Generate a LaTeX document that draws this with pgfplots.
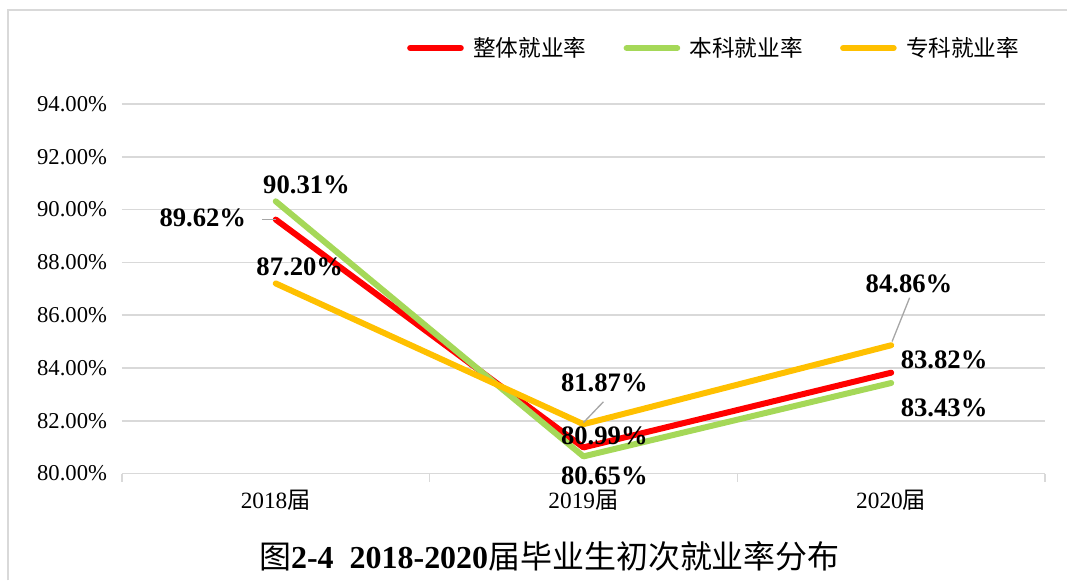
\documentclass[border=0pt]{standalone}
\usepackage{pgfplots}
\pgfplotsset{compat=1.18}
\usepackage{fontspec}
\setmainfont{Liberation Serif}
\newfontfamily\cjk{Noto Sans CJK SC}
\definecolor{cred}{HTML}{FF0000}
\definecolor{cgreen}{HTML}{A5D858}
\definecolor{corange}{HTML}{FFC000}
\definecolor{gridgray}{HTML}{D9D9D9}
\definecolor{leadgray}{HTML}{A6A6A6}
\begin{document}
\begin{tikzpicture}
% canvas: 1 px = 0.75pt
\path (0,0) rectangle (801pt,435.75pt);
\draw[gridgray, line width=1.5pt] (6pt,0pt) -- (6pt,428.25pt) -- (801pt,428.25pt);
\begin{axis}[
    at={(91.5pt,80.25pt)}, anchor=south west,
    scale only axis,
    width=693pt, height=277.5pt,
    xmin=-0.5, xmax=2.5,
    ymin=80, ymax=94,
    clip=false,
    axis line style={draw=none},
    xtick={0,1,2},
    xticklabels={2018{\cjk 届},2019{\cjk 届},2020{\cjk 届}},
    minor xtick={-0.5,0.5,1.5,2.5},
    major tick length=0pt,
    minor tick length=6pt,
    tick align=outside,
    xtick pos=bottom, ytick pos=left,
    x tick style={gridgray, line width=1.2pt},
    y tick style={draw=none},
    ytick={80,82,...,94},
    ymajorgrids,
    major grid style={gridgray, line width=1.2pt},
    /pgf/number format/assume math mode=true,
    yticklabel={\pgfmathprintnumber[fixed,fixed zerofill,precision=2]{\tick}\%},
    yticklabel style={anchor=east, inner sep=0pt, xshift=-11pt, font=\fontsize{17}{20}\selectfont},
    xticklabel style={anchor=north, inner sep=0pt, yshift=-12pt, font=\fontsize{17.5}{20}\selectfont},
    legend style={at={(0.642,1.151)}, anchor=center, draw=none, fill=none,
        font=\cjk\fontsize{17}{20}\selectfont, inner sep=0pt},
    legend columns=3,
    legend cell align=left,
    /tikz/every odd column/.append style={column sep=5pt},
    /tikz/every even column/.append style={column sep=26pt},
    legend image code/.code={\draw[#1, line width=4.5pt, line cap=round] (0pt,0pt) -- (38pt,0pt);},
]
\addplot[cred, line width=4.5pt, line cap=round, line join=round] coordinates {(0,89.62) (1,80.99) (2,83.82)};
\addlegendentry{整体就业率}
\addplot[cgreen, line width=4.5pt, line cap=round, line join=round] coordinates {(0,90.31) (1,80.65) (2,83.43)};
\addlegendentry{本科就业率}
\addplot[corange, line width=4.5pt, line cap=round, line join=round] coordinates {(0,87.20) (1,81.87) (2,84.86)};
\addlegendentry{专科就业率}

% leader lines
\draw[leadgray, line width=1pt] (axis cs:-0.045,89.62) -- (axis cs:0,89.62);
\draw[leadgray, line width=1pt] (axis cs:1.065,82.72) -- (axis cs:1.0,81.93);
\draw[leadgray, line width=1pt] (axis cs:2.06,86.66) -- (axis cs:2.003,85.0);

% data labels
\begin{scope}[every node/.style={font=\bfseries\fontsize{20}{24}\selectfont, inner sep=0pt}]
\node at (axis cs:-0.237,89.69) {89.62\%};
\node at (axis cs:0.10,90.93) {90.31\%};
\node at (axis cs:0.078,87.83) {87.20\%};
\node at (axis cs:1.068,83.44) {81.87\%};
\node at (axis cs:1.068,81.44) {80.99\%};
\node at (axis cs:1.068,79.92) {80.65\%};
\node at (axis cs:2.058,87.19) {84.86\%};
\node at (axis cs:2.172,84.31) {83.82\%};
\node at (axis cs:2.172,82.50) {83.43\%};
\end{scope}
\end{axis}
\node[font=\fontsize{24}{28}\selectfont, inner sep=0pt] at (412.5pt,18pt)
    {{\cjk 图}\textbf{2-4\ \ 2018-2020}{\cjk 届毕业生初次就业率分布}};
\end{tikzpicture}
\end{document}
